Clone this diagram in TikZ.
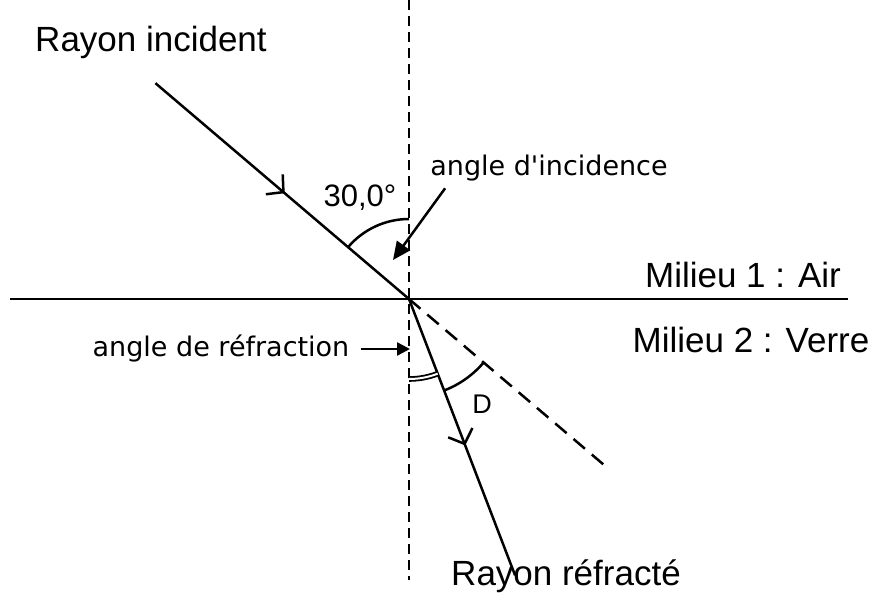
\documentclass[tikz,border=0pt]{standalone}
\usepackage{fontspec}
\setmainfont{Liberation Sans}
\newfontfamily\comicfont{DejaVu Sans}
\usetikzlibrary{arrows.meta,calc,decorations.markings}

\begin{document}
\begin{tikzpicture}[x=1pt,y=1pt,line width=2.5pt,
    every node/.style={inner sep=0pt},
    lbl/.style={font=\fontsize{35}{40}\selectfont},
    cmt/.style={font=\comicfont\fontsize{27}{30}\selectfont},
    midarrow/.style={postaction={decorate},decoration={markings,
      mark=at position #1 with {\arrow{Straight Barb[length=12pt,width=26pt,line width=2.5pt]}}}},
    >={Triangle[length=18pt,width=16pt]}]
    \useasboundingbox(0,0)rectangle(874,592);
    \coordinate(O)at(409,293);
    % axes
    \draw[dash pattern=on 10pt off 6pt](409,592)--(409,12);
    \draw(10,293)--(848,293);
    % rays
    \coordinate(I)at($(O)+(139.6:333)$);
    \coordinate(R)at($(O)+(-69:296)$);
    \coordinate(P)at($(O)+(-40.4:259)$);
    \draw[midarrow=0.51](I)--(O);
    \draw[midarrow=0.53](O)--(R);
    \draw[dash pattern=on 15pt off 9pt](O)--(P);
    % angles
    \draw($(O)+(139.6:80)$)arc[start angle=139.6,end angle=90,radius=80];
    \draw[double,double distance=2pt,line width=1.8pt]($(O)+(-90:80)$)
      arc[start angle=-90,end angle=-69,radius=80];
    \draw($(O)+(-69:98)$)arc[start angle=-69,end angle=-40.4,radius=98];
    % labels
    \node[lbl](inc)at(151,550){Rayon incident};
    \node[lbl](refr)at(566,16){Rayon réfracté};
    \node[lbl](m1)at(743,317){Milieu 1 : Air};
    \node[lbl](m2)at(751,252){Milieu 2 : Verre};
    \node[font=\fontsize{31}{34}\selectfont](ang)at(360,394){30,0°};
    \node[lbl](dev)at(482,188){\fontsize{27}{30}\selectfont D};
    \node[cmt](ai)at(549,424){angle d'incidence};
    \node[cmt](ar)at(221,243){angle de réfraction};
    \coordinate(aitip)at(393,332);
    \coordinate(artip)at(410,243);
    \draw[->](ai.south west)++(16,-6)--(aitip);
    \draw[->,>={Triangle[length=13pt,width=13pt]}](ar.east)++(10,0)--(artip);
  \end{tikzpicture}
\end{document}
